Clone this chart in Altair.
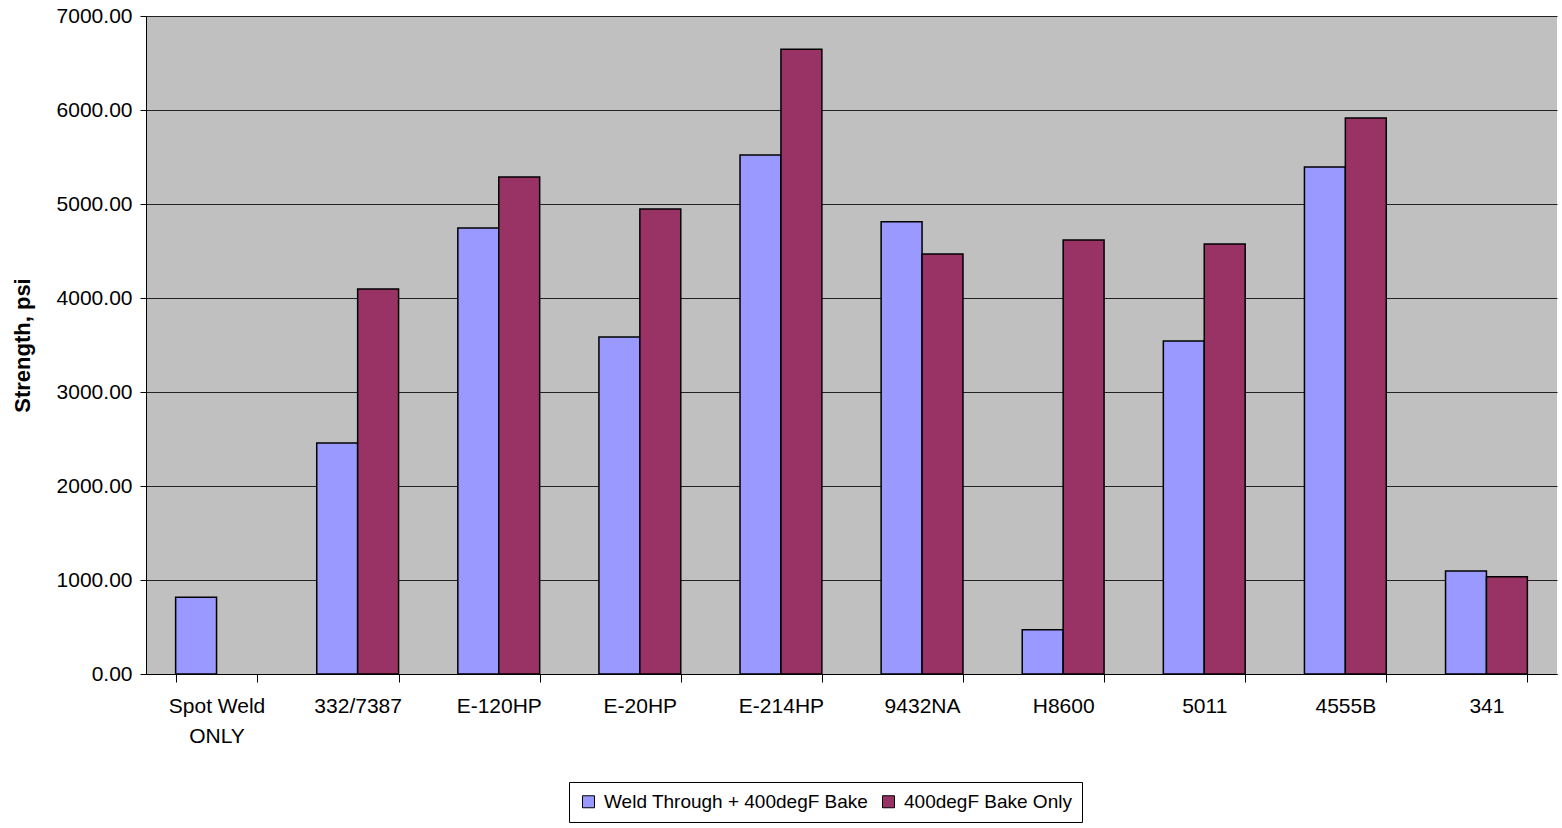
import altair as alt
import pandas as pd

categories = ["Spot Weld ONLY", "332/7387", "E-120HP", "E-20HP", "E-214HP",
              "9432NA", "H8600", "5011", "4555B", "341"]
series_names = ["Weld Through + 400degF Bake", "400degF Bake Only"]
weld_through = [816, 2457, 4745, 3585, 5521, 4812, 472, 3543, 5394, 1096]
bake_only = [None, 4096, 5287, 4947, 6645, 4468, 4617, 4574, 5915, 1035]

rows = []
for c, a, b in zip(categories, weld_through, bake_only):
    rows.append({"cat": c, "series": series_names[0], "value": a})
    if b is not None:
        rows.append({"cat": c, "series": series_names[1], "value": b})
df = pd.DataFrame(rows)

FONT = "Liberation Sans"

chart = alt.Chart(df).mark_bar(stroke="black", strokeWidth=1.5).encode(
    x=alt.X("cat:N", sort=categories,
            scale=alt.Scale(paddingInner=0.42, paddingOuter=0.21),
            axis=alt.Axis(title=None, labelAngle=0, tickBand="extent",
                          labelExpr="datum.value == 'Spot Weld ONLY' ? ['Spot Weld', 'ONLY'] : datum.label",
                          labelFontSize=21, labelFont=FONT, labelColor="black",
                          labelPadding=13, labelLineHeight=30, labelBaseline="top",
                          tickSize=8, tickColor="black", domainColor="black",
                          labelLimit=300, grid=False)),
    xOffset=alt.XOffset("series:N", sort=series_names,
                        scale=alt.Scale(domain=series_names, paddingInner=0, paddingOuter=0)),
    y=alt.Y("value:Q", scale=alt.Scale(domain=[0, 7000], nice=False),
            axis=alt.Axis(title="Strength, psi", format=".2f", values=list(range(0, 7001, 1000)),
                          labelFontSize=21, labelFont=FONT, labelColor="black",
                          titleFontSize=22, titleFont=FONT, titleFontWeight="bold",
                          titleColor="black", titlePadding=22,
                          tickSize=6, tickColor="black", domainColor="black",
                          gridColor="#222222", gridOpacity=1, labelPadding=8)),
    color=alt.Color("series:N", sort=series_names,
                    scale=alt.Scale(domain=series_names, range=["#9999FF", "#993366"]),
                    legend=alt.Legend(title=None, orient="none", direction="horizontal",
                                      legendX=423, legendY=766,
                                      labelFontSize=19, labelFont=FONT, labelColor="black",
                                      labelLimit=400,
                                      symbolType="square", symbolSize=144,
                                      symbolStrokeColor="black", symbolStrokeWidth=1,
                                      strokeColor="black", padding=10, columnPadding=10,
                                      labelOffset=6)),
).properties(
    width=1411, height=658,
    autosize=alt.AutoSizeParams(type="none"),
    padding={"left": 146, "top": 16, "right": 5, "bottom": 154},
    background="white",
).configure_view(
    fill="#C0C0C0", stroke=None
)

chart.save("out.html", embed_options={"renderer": "svg", "actions": False})
